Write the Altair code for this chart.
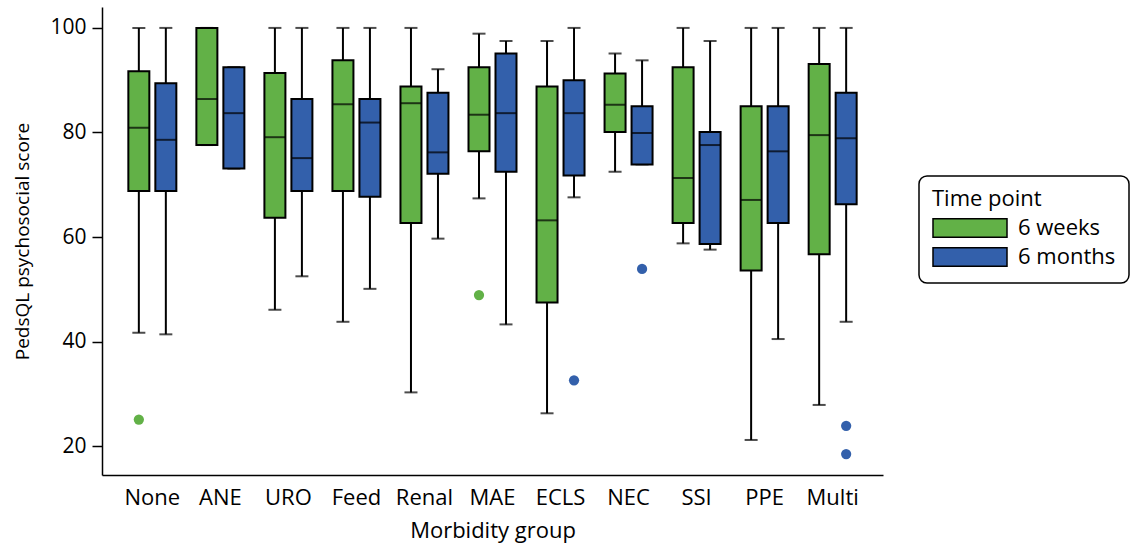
import altair as alt
import pandas as pd

categories = ["None", "ANE", "URO", "Feed", "Renal", "MAE", "ECLS", "NEC", "SSI", "PPE", "Multi"]
groups = ["6 weeks", "6 months"]

# 6 weeks (green)
w_lower = [41.7, 77.6, 46.1, 43.8, 30.3, 67.4, 26.3, 72.5, 58.8, 21.2, 27.9]
w_q1 = [68.8, 77.6, 63.7, 68.8, 62.7, 76.4, 47.5, 80.1, 62.7, 53.6, 56.7]
w_med = [80.9, 86.4, 79.1, 85.4, 85.6, 83.4, 63.2, 85.3, 71.3, 67.1, 79.5]
w_q3 = [91.7, 100.0, 91.4, 93.8, 88.8, 92.5, 88.8, 91.3, 92.5, 85.0, 93.1]
w_upper = [100.0, 100.0, 100.0, 100.0, 100.0, 98.9, 97.5, 95.1, 100.0, 100.0, 100.0]

# 6 months (blue)
m_lower = [41.4, 73.1, 52.5, 50.1, 59.7, 43.3, 67.6, 73.9, 57.6, 40.5, 43.8]
m_q1 = [68.8, 73.1, 68.8, 67.7, 72.1, 72.5, 71.8, 73.9, 58.7, 62.7, 66.3]
m_med = [78.6, 83.7, 75.1, 81.9, 76.2, 83.7, 83.7, 79.9, 77.6, 76.4, 78.9]
m_q3 = [89.4, 92.5, 86.4, 86.4, 87.6, 95.1, 90.0, 85.0, 80.1, 85.0, 87.6]
m_upper = [100.0, 92.5, 100.0, 100.0, 92.1, 97.5, 100.0, 93.8, 97.5, 100.0, 100.0]

# outliers
out_group = ["None", "MAE", "ECLS", "NEC", "Multi", "Multi"]
out_time = ["6 weeks", "6 weeks", "6 months", "6 months", "6 months", "6 months"]
out_value = [25.1, 48.9, 32.6, 53.9, 23.9, 18.5]

colors = ["#62B147", "#3360AB"]
FONT = "Open Sans"

rows = []
for i, c in enumerate(categories):
    rows.append(dict(cat=c, tp="6 weeks", lo=w_lower[i], q1=w_q1[i], med=w_med[i], q3=w_q3[i], hi=w_upper[i]))
    rows.append(dict(cat=c, tp="6 months", lo=m_lower[i], q1=m_q1[i], med=m_med[i], q3=m_q3[i], hi=m_upper[i]))
box = pd.DataFrame(rows)
outl = pd.DataFrame(dict(cat=out_group, tp=out_time, v=out_value))

x_enc = alt.X("cat:N", sort=categories,
              scale=alt.Scale(paddingInner=0, paddingOuter=0.24),
              axis=alt.Axis(title="Morbidity group", ticks=False, labelAngle=0,
                            labelFontSize=22, labelPadding=12, titleFontSize=22,
                            titlePadding=12, titleFontWeight="normal"))
xo_enc = alt.XOffset("tp:N", sort=groups,
                     scale=alt.Scale(domain=groups, paddingInner=0, paddingOuter=0.26))
y_scale = alt.Scale(domain=[14.5, 104], nice=False, zero=False)
y_axis = alt.Axis(title="PedsQL psychosocial score", values=[20, 40, 60, 80, 100],
                  tickSize=10, tickWidth=1.5, tickColor="black", labelFontSize=21,
                  labelPadding=6, titleFontSize=19, titleFontWeight="normal",
                  titleX=-80, titleBaseline="middle", grid=False)
color_scale = alt.Scale(domain=groups, range=colors)

base = alt.Chart(box)

whisker = base.mark_rule(color="black", strokeWidth=2).encode(
    x=x_enc, xOffset=xo_enc,
    y=alt.Y("lo:Q", scale=y_scale, axis=y_axis),
    y2="hi:Q",
)
cap_lo = base.mark_tick(color="black", size=13, thickness=2).encode(
    x=x_enc, xOffset=xo_enc, y=alt.Y("lo:Q", scale=y_scale))
cap_hi = base.mark_tick(color="black", size=13, thickness=2).encode(
    x=x_enc, xOffset=xo_enc, y=alt.Y("hi:Q", scale=y_scale))
boxes = base.mark_bar(size=21, stroke="black", strokeWidth=2, opacity=1).encode(
    x=x_enc, xOffset=xo_enc,
    y=alt.Y("q1:Q", scale=y_scale),
    y2="q3:Q",
    fill=alt.Fill("tp:N", scale=color_scale, sort=groups,
                  legend=alt.Legend(title="Time point", orient="none",
                                    legendX=817, legendY=169,
                                    symbolType="M-1,-0.925H6.4V0.925H-1Z",
                                    symbolSize=400, symbolStrokeColor="black",
                                    symbolStrokeWidth=1.5, symbolOpacity=1,
                                    labelFontSize=22, titleFontSize=22,
                                    titleFontWeight="normal", labelOffset=64,
                                    padding=13, strokeColor="black",
                                    cornerRadius=8, fillColor="white",
                                    rowPadding=3, titlePadding=6)),
)
medians = base.mark_tick(color="black", size=21, thickness=2).encode(
    x=x_enc, xOffset=xo_enc, y=alt.Y("med:Q", scale=y_scale))
outliers = alt.Chart(outl).mark_circle(size=105, opacity=1).encode(
    x=x_enc, xOffset=xo_enc,
    y=alt.Y("v:Q", scale=y_scale),
    color=alt.Color("tp:N", scale=color_scale, legend=None),
)

chart = alt.layer(whisker, cap_lo, cap_hi, boxes, medians, outliers).properties(
    width=781, height=468,
    padding={"left": 102, "top": 7, "right": 247, "bottom": 71},
    autosize=alt.AutoSizeParams(type="none"),
).configure(font=FONT).configure_view(stroke=None).configure_axis(
    domainColor="black", domainWidth=1.5, labelColor="black", titleColor="black",
    labelFont=FONT, titleFont=FONT,
).configure_legend(labelFont=FONT, titleFont=FONT, labelColor="black", titleColor="black", strokeWidth=1.5)

chart.save("out.html", embed_options={"renderer": "svg", "actions": False})
